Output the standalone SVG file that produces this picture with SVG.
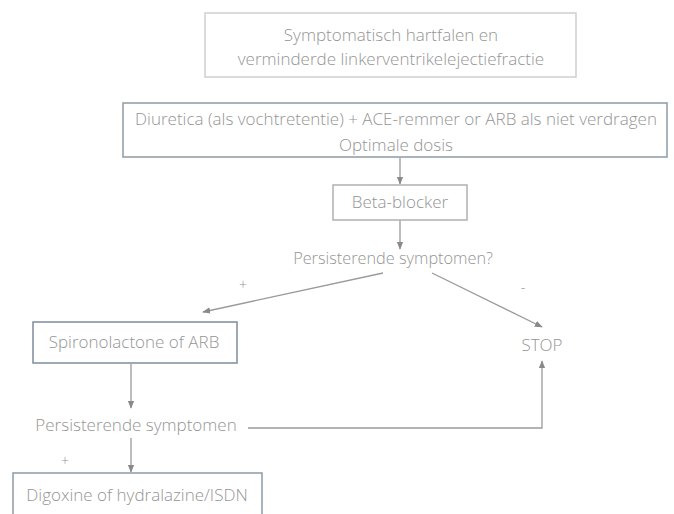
<svg xmlns="http://www.w3.org/2000/svg" width="674" height="514" viewBox="0 0 674 514">
<defs>
<marker id="ah" viewBox="0 0 10 10" refX="9" refY="5" markerWidth="8" markerHeight="8" orient="auto" markerUnits="userSpaceOnUse">
<path d="M0,1 L10,5 L0,9 Z" fill="#8a8a8a"/>
</marker>
</defs>
<style>
text{font-family:"Open Sans","Noto Sans","Liberation Sans",sans-serif;font-size:17px;fill:#959595;text-anchor:middle;font-weight:300}
.box{fill:#fff;stroke-width:1.5}
.line{fill:none;stroke:#9a9a9a;stroke-width:1.3}
.sign{font-size:14px}
.q{font-size:16.3px}
</style>
<rect width="674" height="514" fill="#fff"/>
<g id="connectors">
<line class="line" x1="400" y1="158" x2="400" y2="184" marker-end="url(#ah)"/>
<line class="line" x1="400" y1="220" x2="400" y2="249" marker-end="url(#ah)"/>
<line class="line" x1="383" y1="273" x2="203" y2="312" marker-end="url(#ah)"/>
<line class="line" x1="432" y1="273" x2="542" y2="327" marker-end="url(#ah)"/>
<line class="line" x1="131" y1="364" x2="131" y2="408" marker-end="url(#ah)"/>
<polyline class="line" points="248,428 542,428 542,361" marker-end="url(#ah)"/>
<line class="line" x1="131" y1="438" x2="131" y2="472" marker-end="url(#ah)"/>
<text class="sign" x="243" y="290">+</text>
<text class="sign" x="523" y="292">-</text>
<text class="sign" x="65" y="466">+</text>
</g>
<g id="n1">
<rect class="box" x="205" y="13" width="371" height="64" stroke="#cfcfcf"/>
<text x="391" y="41">Symptomatisch hartfalen en</text>
<text x="391" y="65">verminderde linkerventrikelejectiefractie</text>
</g>
<g id="n2">
<rect class="box" x="123" y="103" width="544" height="54" stroke="#8c9aa6"/>
<text x="396" y="125">Diuretica (als vochtretentie) + ACE-remmer or ARB als niet verdragen</text>
<text x="396" y="151">Optimale dosis</text>
</g>
<g id="n3">
<rect class="box" x="333" y="185" width="134" height="35" stroke="#b0b0b0"/>
<text x="400" y="208">Beta-blocker</text>
</g>
<g id="n4">
<text class="q" x="393" y="264">Persisterende symptomen?</text>
</g>
<g id="n5">
<rect class="box" x="33" y="322" width="204" height="41" stroke="#7d8c9c"/>
<text x="134" y="348">Spironolactone of ARB</text>
</g>
<g id="n6">
<text x="542" y="351">STOP</text>
</g>
<g id="n7">
<text x="136" y="431">Persisterende symptomen</text>
</g>
<g id="n8">
<rect class="box" x="13" y="473" width="249" height="50" stroke="#8c9aa6"/>
<text x="137" y="501">Digoxine of hydralazine/ISDN</text>
</g>
</svg>
